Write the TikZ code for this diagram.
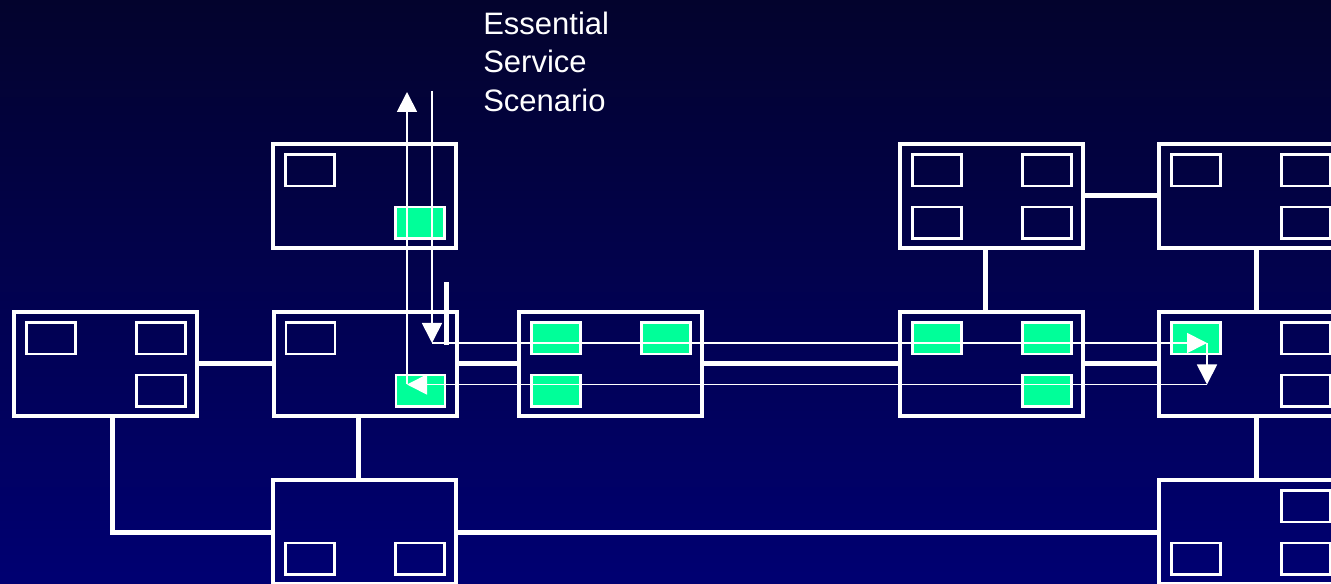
\documentclass[tikz,border=0pt]{standalone}
\usepackage{fontspec}
\setmainfont{Liberation Sans}
\usetikzlibrary{arrows.meta}
\definecolor{bgtop}{RGB}{3,3,45}
\definecolor{bgbot}{RGB}{0,0,114}
\definecolor{live}{RGB}{0,255,153}
\tikzset{
  bigbox/.style={draw=white, line width=3pt, minimum width=137.25pt, minimum height=78pt,
    inner sep=0pt, outer sep=0pt, anchor=north west},
  slot/.style={draw=white, line width=1.9pt, minimum width=36.75pt, minimum height=23.6pt,
    inner sep=0pt, outer sep=0pt, anchor=north west},
  liveslot/.style={slot, fill=live},
  link/.style={draw=white, line width=3.75pt},
  flow/.style={draw=white, line width=1.3pt, -{Triangle[length=15pt,width=15pt]}},
  lbl/.style={text=white, anchor=base west, inner sep=0pt, font=\fontsize{23.25pt}{28pt}\selectfont}
}
\begin{document}
\begin{tikzpicture}[x=0.75pt, y=-0.75pt]
\useasboundingbox (0,0) rectangle (1331,584);
\begin{scope}
\clip (0,0) rectangle (1331,584);
\shade[top color=bgtop, bottom color=bgbot] (0,0) rectangle (1331,584);

% big boxes
\node[bigbox] (A) at (14,312) {};
\node[bigbox] (B) at (273.5,312) {};
\node[bigbox] (T) at (273,144) {};
\node[bigbox] (Bot) at (273,480) {};
\node[bigbox] (C) at (519,312) {};
\node[bigbox] (D) at (900,312) {};
\node[bigbox] (E) at (900,144) {};
\node[bigbox] (F) at (1159,144) {};
\node[bigbox] (G) at (1159,312) {};
\node[bigbox] (H) at (1159,480) {};

% inner slots
\node[slot] (A1) at ([shift={(12.5,10.5)}]A.north west) {};
\node[slot] (A2) at ([shift={(122.5,10.5)}]A.north west) {};
\node[slot] (A4) at ([shift={(122.5,63)}]A.north west) {};

\node[slot] (B1) at ([shift={(12.5,10.5)}]B.north west) {};
\node[liveslot] (B4) at ([shift={(122.5,63)}]B.north west) {};

\node[slot] (T1) at ([shift={(12.5,10.5)}]T.north west) {};
\node[liveslot] (T4) at ([shift={(122.5,63)}]T.north west) {};

\node[slot] (Bot3) at ([shift={(12.5,63)}]Bot.north west) {};
\node[slot] (Bot4) at ([shift={(122.5,63)}]Bot.north west) {};

\node[liveslot] (C1) at ([shift={(12.5,10.5)}]C.north west) {};
\node[liveslot] (C2) at ([shift={(122.5,10.5)}]C.north west) {};
\node[liveslot] (C3) at ([shift={(12.5,63)}]C.north west) {};

\node[liveslot] (D1) at ([shift={(12.5,10.5)}]D.north west) {};
\node[liveslot] (D2) at ([shift={(122.5,10.5)}]D.north west) {};
\node[liveslot] (D4) at ([shift={(122.5,63)}]D.north west) {};

\node[slot] (E1) at ([shift={(12.5,10.5)}]E.north west) {};
\node[slot] (E2) at ([shift={(122.5,10.5)}]E.north west) {};
\node[slot] (E3) at ([shift={(12.5,63)}]E.north west) {};
\node[slot] (E4) at ([shift={(122.5,63)}]E.north west) {};

\node[slot] (F1) at ([shift={(12.5,10.5)}]F.north west) {};
\node[slot] (F2) at ([shift={(122.5,10.5)}]F.north west) {};
\node[slot] (F4) at ([shift={(122.5,63)}]F.north west) {};

\node[liveslot] (G1) at ([shift={(12.5,10.5)}]G.north west) {};
\node[slot] (G2) at ([shift={(122.5,10.5)}]G.north west) {};
\node[slot] (G4) at ([shift={(122.5,63)}]G.north west) {};

\node[slot] (H2) at ([shift={(122.5,10.5)}]H.north west) {};
\node[slot] (H3) at ([shift={(12.5,63)}]H.north west) {};
\node[slot] (H4) at ([shift={(122.5,63)}]H.north west) {};

% link x positions
\coordinate (xa) at (112,0);
\coordinate (xb) at (358.5,0);
\coordinate (xd) at (985.5,0);
\coordinate (xg) at (1256,0);

% links
\draw[link] (A.east) -- (B.west);
\draw[link] (B.east) -- (C.west);
\draw[link] (C.east) -- (D.west);
\draw[link] (D.east) -- (G.west);
\draw[link] (E.east) -- (F.west);
\draw[link] (E.south -| xd) -- (D.north -| xd);
\draw[link] (F.south -| xg) -- (G.north -| xg);
\draw[link] (G.south -| xg) -- (H.north -| xg);
\draw[link] (B.south -| xb) -- (Bot.north -| xb);
\draw[link] (A.south -| xa) |- (Bot.west);
\draw[link] (Bot.east) -- (H.west);

% service flow
\coordinate (f0) at (432,91);
\coordinate (f1) at (432,343);
\coordinate (f2) at (1207,343);
\coordinate (f3) at (1207,384.5);
\coordinate (f4) at (407,384.5);
\coordinate (f5) at (407,92);
\draw[flow] (f0) -- (f1);
\draw[flow] (f1) -- (f2);
\draw[flow] (f2) -- (f3);
\draw[flow] (f3) -- (f4);
\draw[flow] (f4) -- (f5);

% stub
\coordinate (s0) at (446,282);
\coordinate (s1) at (446,345);
\draw[link] (s0) -- (s1);

% label
\node[lbl] (l1) at (483,34.5) {Essential};
\node[lbl] (l2) at (483,73) {Service};
\node[lbl] (l3) at (483,111.5) {Scenario};
\end{scope}
\end{tikzpicture}
\end{document}
